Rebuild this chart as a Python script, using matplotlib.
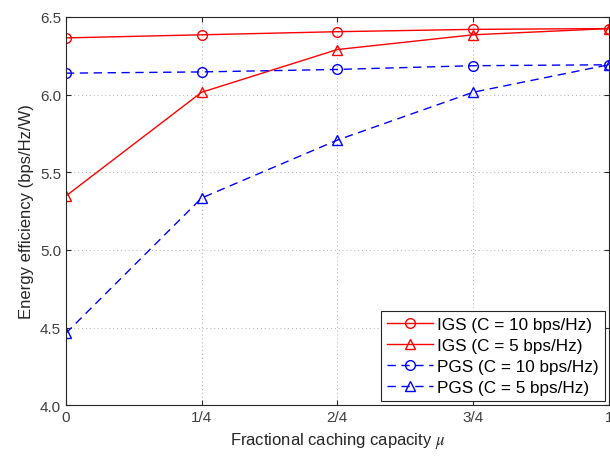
import matplotlib.pyplot as plt
import numpy as np

plt.rcParams['font.family'] = ['Liberation Sans', 'DejaVu Sans']
plt.rcParams['mathtext.fontset'] = 'stix'

mu = [0, 0.25, 0.5, 0.75, 1.0]
xlabels = ['0', '1/4', '2/4', '3/4', '1']
igs_10 = [6.365, 6.385, 6.405, 6.42, 6.425]
igs_5 = [5.347, 6.015, 6.29, 6.385, 6.425]
pgs_10 = [6.138, 6.146, 6.162, 6.186, 6.192]
pgs_5 = [4.463, 5.334, 5.707, 6.015, 6.192]

fig = plt.figure(figsize=(6.1, 4.6), dpi=100)
ax = fig.add_axes([0.108, 0.117, 0.89, 0.844])

ax.plot(mu, igs_10, 'r-o', mfc='none', ms=7, lw=1.0, label='IGS (C = 10 bps/Hz)')
ax.plot(mu, igs_5, 'r-^', mfc='none', ms=7, lw=1.0, label='IGS (C = 5 bps/Hz)')
ax.plot(mu, pgs_10, 'b--o', mfc='none', ms=7, lw=1.0, dashes=(6, 4), label='PGS (C = 10 bps/Hz)')
ax.plot(mu, pgs_5, 'b--^', mfc='none', ms=7, lw=1.0, dashes=(6, 4), label='PGS (C = 5 bps/Hz)')

ax.set_xlim(0, 1)
ax.set_ylim(4.0, 6.5)
ax.set_xticks(mu)
ax.set_xticklabels(xlabels)
ax.set_yticks(np.arange(4.0, 6.51, 0.5))
ax.grid(True, linestyle=(0, (1, 3)), color='#b0b0b0', lw=0.7)
ax.tick_params(direction='in', top=True, right=True, colors='#262626', labelcolor='#404040', labelsize=11)
for s in ax.spines.values():
    s.set_color('#262626')
    s.set_linewidth(0.8)

ax.set_xlabel(r'Fractional caching capacity $\mu$', fontsize=12, color='#262626')
ax.set_ylabel('Energy efficiency (bps/Hz/W)', fontsize=12, color='#262626')

leg = ax.legend(loc='lower right', fontsize=12.3, fancybox=False, edgecolor='#262626',
                framealpha=1, borderaxespad=0.25, handlelength=2.7, handletextpad=0.2,
                labelspacing=0.35, borderpad=0.35)
leg.get_frame().set_linewidth(0.8)

fig.savefig('out.png', dpi=100)
